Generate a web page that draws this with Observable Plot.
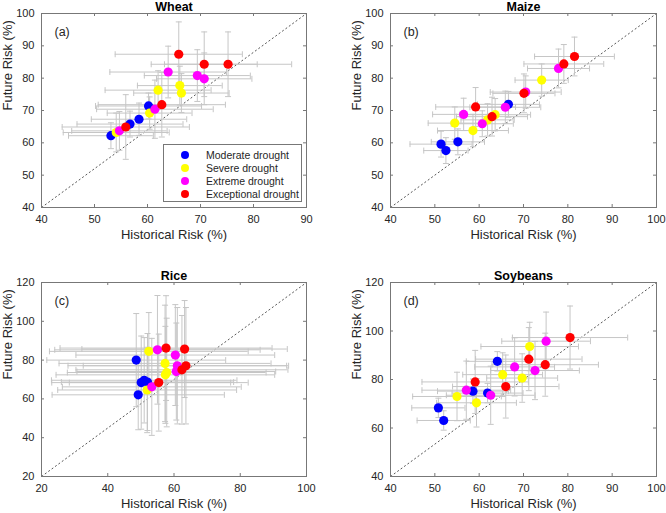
<!DOCTYPE html>
<html>
<head>
<meta charset="utf-8">
<script src="https://cdn.jsdelivr.net/npm/d3@7"></script>
<script src="https://cdn.jsdelivr.net/npm/@observablehq/plot@0.6"></script>
<style>
  body { margin: 0; background: #fff; }
  #wrap { position: relative; width: 666px; height: 513px; font-family: "Liberation Sans", Arial, sans-serif; overflow: hidden; }
  .panel { position: absolute; }
  .legend { position: absolute; box-sizing: border-box; border: 1px solid #777; background: #fff;
            font-size: 10.5px; color: #262626; padding-top: 3px; }
  .legend .row { display: flex; align-items: center; height: 13px; }
  .legend .sw { width: 8px; height: 8px; border-radius: 50%; margin-left: 17px; margin-right: 17px; }
</style>
</head>
<body>
<div id="wrap"></div>
<script>
// ---------- data ----------
const categories = ["Moderate drought", "Severe drought", "Extreme drought", "Exceptional drought"];
const colors = ["#0000ff", "#ffff00", "#ff00ff", "#ff0000"];
const xLabel = "Historical Risk (%)";
const yLabel = "Future Risk (%)";

// rows: [category index, historical risk, future risk, historical error, future error]
const wheat = [
  [0, 53.1, 62.2, 8, 4], [0, 56.7, 65.8, 10, 4], [0, 58.4, 67.3, 9, 5], [0, 60.2, 71.4, 10, 4],
  [1, 54.1, 63.2, 10, 6], [1, 60.4, 69.2, 8, 5], [1, 62.0, 76.3, 10, 6], [1, 66.1, 77.7, 8, 6], [1, 66.4, 75.4, 9, 6],
  [2, 54.7, 63.7, 9, 6], [2, 61.4, 70.4, 11, 9], [2, 63.9, 81.9, 11, 8], [2, 69.4, 80.8, 10, 8], [2, 70.7, 79.8, 9, 8],
  [3, 55.9, 64.9, 12, 10], [3, 62.7, 71.8, 12, 10], [3, 65.9, 87.4, 12, 10], [3, 70.7, 84.3, 10, 10], [3, 75.2, 84.3, 12, 10]
];
const maize = [
  [0, 51.4, 59.6, 7, 4], [0, 52.5, 57.6, 5, 4], [0, 55.2, 60.3, 6, 4], [0, 66.6, 71.9, 7, 4],
  [1, 54.5, 66.1, 6, 5], [1, 58.6, 63.8, 8, 5], [1, 61.9, 67.1, 6, 5], [1, 63.6, 68.7, 8, 5], [1, 74.1, 79.4, 6, 5],
  [2, 56.5, 68.8, 7, 5], [2, 60.7, 65.9, 7, 4], [2, 65.9, 71.0, 8, 5], [2, 70.5, 75.7, 8, 5], [2, 77.9, 83.0, 7, 6],
  [3, 59.2, 71.1, 9, 6], [3, 62.9, 68.1, 8, 6], [3, 70.1, 75.3, 7, 6], [3, 79.1, 84.4, 9, 6], [3, 81.5, 86.7, 9, 6]
];
const rice = [
  [0, 48.6, 80.0, 27, 24], [0, 49.2, 62.1, 26, 18], [0, 50.1, 68.4, 27, 24], [0, 51.0, 69.6, 28, 22], [0, 52.0, 68.7, 26, 25],
  [1, 52.4, 84.5, 30, 20], [1, 51.9, 64.6, 27, 22], [1, 57.3, 78.3, 32, 30], [1, 57.8, 73.6, 30, 28], [1, 57.4, 72.4, 33, 25],
  [2, 55.0, 85.3, 31, 28], [2, 60.4, 82.6, 30, 26], [2, 53.3, 66.2, 27, 25], [2, 61.0, 77.1, 33, 30], [2, 60.7, 74.1, 30, 25],
  [3, 57.6, 86.2, 32, 27], [3, 63.2, 85.7, 31, 25], [3, 55.4, 68.4, 27, 25], [3, 63.6, 77.1, 31, 30], [3, 62.4, 75.0, 32, 28]
];
const soybeans = [
  [0, 50.8, 68.3, 6, 4], [0, 52.0, 63.1, 6, 4], [0, 58.6, 75.2, 8, 5], [0, 61.9, 74.4, 8, 4], [0, 64.1, 87.5, 7, 4],
  [1, 55.0, 73.0, 10, 10], [1, 59.4, 70.4, 9, 10], [1, 65.3, 82.0, 9, 9], [1, 69.7, 80.6, 8, 10], [1, 71.4, 93.6, 11, 10],
  [2, 57.1, 75.6, 10, 12], [2, 62.6, 73.5, 10, 12], [2, 68.0, 85.2, 9, 12], [2, 72.6, 83.7, 10, 12], [2, 75.1, 95.8, 10, 12],
  [3, 59.1, 79.0, 12, 13], [3, 66.0, 77.1, 12, 13], [3, 71.2, 88.4, 12, 13], [3, 74.9, 86.1, 12, 13], [3, 80.5, 97.3, 13, 13]
];

const wheatX = [40, 90], wheatY = [40, 100];
const maizeX = [40, 100], maizeY = [40, 100];
const riceX = [20, 100], riceY = [20, 120];
const soyX = [40, 100], soyY = [40, 120];
const wheatXTicks = [40, 50, 60, 70, 80, 90], wheatYTicks = [40, 50, 60, 70, 80, 90, 100];
const maizeXTicks = [40, 50, 60, 70, 80, 90, 100], maizeYTicks = [40, 50, 60, 70, 80, 90, 100];
const riceXTicks = [20, 40, 60, 80, 100], riceYTicks = [20, 40, 60, 80, 100, 120];
const soyXTicks = [40, 50, 60, 70, 80, 90, 100], soyYTicks = [40, 60, 80, 100, 120];

// ---------- drawing ----------
const ebColor = "#c6c6c6";
const axisColor = "#777";
const textColor = "#262626";
const vbar = { draw(ctx, size) { const h = Math.sqrt(size / Math.PI); ctx.moveTo(0, -h); ctx.lineTo(0, h); } };
const hbar = { draw(ctx, size) { const h = Math.sqrt(size / Math.PI); ctx.moveTo(-h, 0); ctx.lineTo(h, 0); } };

function panel(cfg) {
  const rows = cfg.data.map(([c, x, y, ex, ey]) => ({ cat: categories[c], x, y, ex, ey }));
  const innerW = cfg.width - cfg.ml - cfg.mr;
  const innerH = cfg.height - cfg.mt - cfg.mb;
  const tl = 3;
  const chart = Plot.plot({
    width: cfg.width, height: cfg.height,
    marginLeft: cfg.ml, marginRight: cfg.mr, marginTop: cfg.mt, marginBottom: cfg.mb,
    style: { fontSize: "11px", fontFamily: "'Liberation Sans', Arial, sans-serif", color: textColor, background: "transparent", overflow: "visible" },
    x: { domain: cfg.xd, ticks: cfg.xt, tickSize: 0, tickPadding: 8, label: null },
    y: { domain: cfg.yd, ticks: cfg.yt, tickSize: 0, tickPadding: 7, label: null },
    color: { domain: categories, range: colors },
    marks: [
      // reference line across the box
      Plot.link([0], { x1: () => cfg.xd[0], y1: () => cfg.yd[0], x2: () => cfg.xd[1], y2: () => cfg.yd[1],
        stroke: "#444", strokeWidth: 0.9, strokeDasharray: "2,2.2" }),
      // error bars
      Plot.ruleY(rows, { y: "y", x1: d => d.x - d.ex, x2: d => d.x + d.ex, stroke: ebColor, strokeWidth: 1 }),
      Plot.ruleX(rows, { x: "x", y1: d => d.y - d.ey, y2: d => d.y + d.ey, stroke: ebColor, strokeWidth: 1 }),
      Plot.dot(rows, { x: d => d.x - d.ex, y: "y", symbol: vbar, r: 3, stroke: ebColor, fill: "none", strokeWidth: 1 }),
      Plot.dot(rows, { x: d => d.x + d.ex, y: "y", symbol: vbar, r: 3, stroke: ebColor, fill: "none", strokeWidth: 1 }),
      Plot.dot(rows, { x: "x", y: d => d.y - d.ey, symbol: hbar, r: 3, stroke: ebColor, fill: "none", strokeWidth: 1 }),
      Plot.dot(rows, { x: "x", y: d => d.y + d.ey, symbol: hbar, r: 3, stroke: ebColor, fill: "none", strokeWidth: 1 }),
      // points
      Plot.dot(rows, { x: "x", y: "y", r: 4.6, fill: "cat", stroke: null }),
      // frame and inward ticks
      Plot.frame({ stroke: axisColor }),
      Plot.tickX(cfg.xt, { x: d => d, insetTop: innerH - tl, stroke: axisColor }),
      Plot.tickX(cfg.xt, { x: d => d, insetBottom: innerH - tl, stroke: axisColor }),
      Plot.tickY(cfg.yt, { y: d => d, insetRight: innerW - tl, stroke: axisColor }),
      Plot.tickY(cfg.yt, { y: d => d, insetLeft: innerW - tl, stroke: axisColor }),
      // texts
      Plot.text([cfg.title], { text: d => d, frameAnchor: "top", dy: -6.5, lineAnchor: "middle", fontWeight: "bold", fontSize: 12.5, fill: "#000" }),
      Plot.text([cfg.letter], { text: d => d, frameAnchor: "top-left", textAnchor: "start", lineAnchor: "top", dx: 13, dy: 14, fontSize: 12.5, fill: textColor }),
      Plot.text([xLabel], { text: d => d, frameAnchor: "bottom", lineAnchor: "middle", dy: 27, fontSize: 13, fill: textColor }),
      Plot.text([yLabel], { text: d => d, frameAnchor: "left", rotate: -90, dx: -34, fontSize: 13, fill: textColor })
    ]
  });
  const div = document.createElement("div");
  div.className = "panel";
  div.style.left = cfg.left + "px";
  div.style.top = cfg.top + "px";
  div.appendChild(chart);
  document.getElementById("wrap").appendChild(div);
}

panel({ data: wheat, xd: wheatX, yd: wheatY, xt: wheatXTicks, yt: wheatYTicks, title: "Wheat", letter: "(a)",
  left: 0, top: 0, width: 333, height: 256, ml: 41, mr: 27, mt: 13, mb: 49 });
panel({ data: maize, xd: maizeX, yd: maizeY, xt: maizeXTicks, yt: maizeYTicks, title: "Maize", letter: "(b)",
  left: 333, top: 0, width: 333, height: 256, ml: 57, mr: 10, mt: 13, mb: 49 });
panel({ data: rice, xd: riceX, yd: riceY, xt: riceXTicks, yt: riceYTicks, title: "Rice", letter: "(c)",
  left: 0, top: 256, width: 333, height: 257, ml: 41, mr: 27, mt: 26, mb: 37 });
panel({ data: soybeans, xd: soyX, yd: soyY, xt: soyXTicks, yt: soyYTicks, title: "Soybeans", letter: "(d)",
  left: 333, top: 256, width: 333, height: 257, ml: 57, mr: 10, mt: 26, mb: 37 });

// legend (inside the Wheat panel)
const legend = document.createElement("div");
legend.className = "legend";
Object.assign(legend.style, { left: "163px", top: "144px", width: "139px", height: "58px" });
categories.forEach((c, i) => {
  const row = document.createElement("div");
  row.className = "row";
  const sw = document.createElement("span");
  sw.className = "sw";
  sw.style.background = colors[i];
  const t = document.createElement("span");
  t.textContent = c;
  row.appendChild(sw); row.appendChild(t);
  legend.appendChild(row);
});
document.getElementById("wrap").appendChild(legend);
</script>
</body>
</html>
